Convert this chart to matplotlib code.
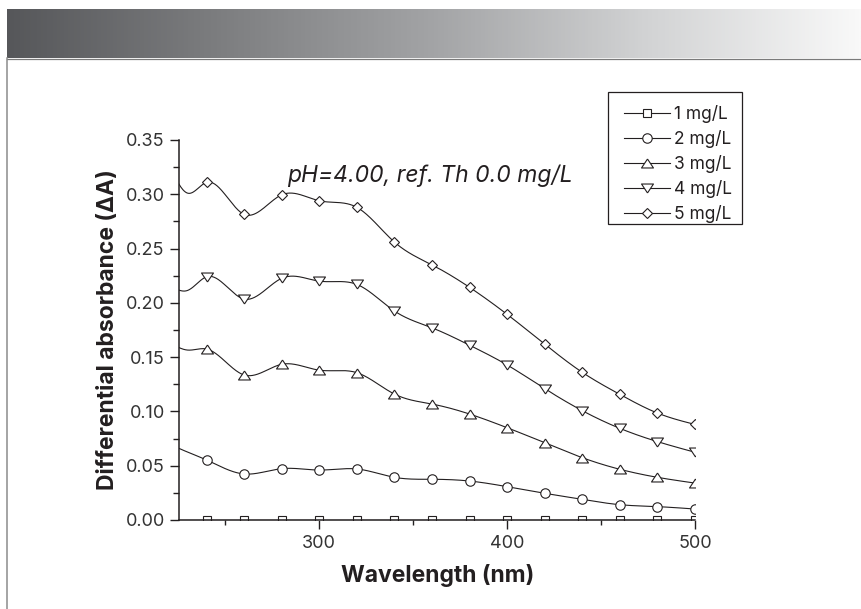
import numpy as np
import matplotlib.pyplot as plt
from matplotlib.lines import Line2D
from matplotlib.patches import Rectangle
from matplotlib.colors import LinearSegmentedColormap

plt.rcParams['font.family'] = ['Inter', 'DejaVu Sans']

# Differential absorbance vs wavelength, one series per Th concentration
wavelength = [240, 260, 280, 300, 320, 340, 360, 380, 400, 420, 440, 460, 480, 500]
th_1 = [0.0, 0.0, 0.0, 0.0, 0.0, 0.0, 0.0, 0.0, 0.0, 0.0, 0.0, 0.0, 0.0, 0.0]
th_2 = [0.0553, 0.0424, 0.0473, 0.0460, 0.0470, 0.0393, 0.0375, 0.0359, 0.0307, 0.0246, 0.0190, 0.0141, 0.0123, 0.0101]
th_3 = [0.1575, 0.1336, 0.1434, 0.1380, 0.1357, 0.1160, 0.1068, 0.0976, 0.0850, 0.0712, 0.0574, 0.0467, 0.0393, 0.0340]
th_4 = [0.2240, 0.2035, 0.2226, 0.2200, 0.2170, 0.1925, 0.1770, 0.1610, 0.1428, 0.1210, 0.1007, 0.0844, 0.0722, 0.0624]
th_5 = [0.3110, 0.2815, 0.2995, 0.2940, 0.2880, 0.2560, 0.2350, 0.2143, 0.1894, 0.1620, 0.1360, 0.1157, 0.0985, 0.0880]
labels = ['1 mg/L', '2 mg/L', '3 mg/L', '4 mg/L', '5 mg/L']

# readings below 240 nm: only the curve is shown there, no symbols
lead_wl = [220, 230]
lead_1 = [0.0, 0.0]
lead_2 = [0.0700, 0.0625]
lead_3 = [0.1640, 0.1565]
lead_4 = [0.2170, 0.2115]
lead_5 = [0.3280, 0.3010]

ink = '#231f20'
W, H = 862, 609


def natural_spline(x, y, xs):
    x = np.asarray(x, float)
    y = np.asarray(y, float)
    n = len(x)
    h = np.diff(x)
    A = np.zeros((n, n))
    b = np.zeros(n)
    A[0, 0] = 1
    A[-1, -1] = 1
    for i in range(1, n - 1):
        A[i, i - 1] = h[i - 1]
        A[i, i] = 2 * (h[i - 1] + h[i])
        A[i, i + 1] = h[i]
        b[i] = 6 * ((y[i + 1] - y[i]) / h[i] - (y[i] - y[i - 1]) / h[i - 1])
    M = np.linalg.solve(A, b)
    k = np.clip(np.searchsorted(x, xs) - 1, 0, n - 2)
    t0 = x[k + 1] - xs
    t1 = xs - x[k]
    hk = h[k]
    return (M[k] * t0 ** 3 / (6 * hk) + M[k + 1] * t1 ** 3 / (6 * hk)
            + (y[k] / hk - M[k] * hk / 6) * t0 + (y[k + 1] / hk - M[k + 1] * hk / 6) * t1)


tri_up = [(0, 0.75), (-1, -0.75), (1, -0.75), (0, 0.75)]
tri_down = [(0, -0.75), (-1, 0.75), (1, 0.75), (0, -0.75)]
styles = [('s', 6.2), ('o', 6.8), (tri_up, 8.6), (tri_down, 8.6), ('D', 5.6)]

fig = plt.figure(figsize=(W / 100, H / 100), dpi=100)

# grey banner across the top
grad = LinearSegmentedColormap.from_list('band', ['#56575a', '#7d7e80', '#a3a4a6', '#d2d3d4', '#f9f9f9'])
band = fig.add_axes([7 / W, 1 - 58 / H, 1 - 7 / W, 49 / H])
band.imshow(np.linspace(0, 1, 512)[None, :], aspect='auto', cmap=grad, extent=[0, 1, 0, 1])
band.axis('off')
fig.add_artist(Line2D([7 / W, 1], [1 - 58.5 / H] * 2, color='#7a7a7a', lw=0.9))
fig.add_artist(Line2D([7.5 / W] * 2, [0, 1 - 58 / H], color='#8c8c8c', lw=1.1))

ax = fig.add_axes([179.3 / W, 89 / H, (695 - 179.3) / W, 380 / H])
xs = np.linspace(220, 500, 800)
series = [(th_1, lead_1), (th_2, lead_2), (th_3, lead_3), (th_4, lead_4), (th_5, lead_5)]
handles = []
for (ys, lead), (mk, ms), lab in zip(series, styles, labels):
    ax.plot(xs, natural_spline(lead_wl + wavelength, lead + ys, xs), color=ink, lw=0.8)
    ax.plot(wavelength, ys, linestyle='none', marker=mk, ms=ms, mfc='white', mec=ink, mew=0.8)
    handles.append(Line2D([], [], color=ink, lw=0.8, marker=mk, ms=ms, mfc='white', mec=ink, mew=0.8))

ax.set_xlim(225.5, 500)
ax.set_ylim(0, 0.35)
ax.set_xticks([300, 400, 500])
ax.set_xticks([250, 350, 450], minor=True)
ax.set_yticks(np.arange(0, 0.351, 0.05))
ax.set_yticks(np.arange(0.025, 0.35, 0.05), minor=True)
ax.set_yticklabels([f'{v:.2f}' for v in np.arange(0, 0.351, 0.05)])
ax.spines['top'].set_visible(False)
ax.spines['right'].set_visible(False)
for s in ['left', 'bottom']:
    ax.spines[s].set_linewidth(1.1)
    ax.spines[s].set_color(ink)
ax.tick_params(which='major', length=6.5, width=1.0, color=ink, labelsize=13, labelcolor='#333333', pad=4)
ax.tick_params(which='minor', length=4.5, width=1.0, color=ink)
ax.tick_params(axis='x', which='minor', length=3.5)

ax.set_xlabel('Wavelength (nm)', fontsize=16.5, fontweight='bold', color=ink, labelpad=9)
ax.set_ylabel('Differential absorbance (ΔA)', fontsize=16.5, fontweight='bold', color=ink, labelpad=5)

fig.text(287 / W, 1 - 182 / H, 'pH=4.00, ref. Th 0.0 mg/L', fontsize=16.5, style='italic',
         color=ink, va='baseline', ha='left')

# legend box drawn separately so the entries can sit inside it with wide margins
fig.add_artist(Rectangle((608 / W, 1 - 224 / H), 134 / W, 132 / H, transform=fig.transFigure,
                         facecolor='white', edgecolor=ink, lw=0.9, zorder=4))
leg = fig.legend(handles, labels, loc='upper left', bbox_to_anchor=(624 / W, 1 - 105 / H),
                 bbox_transform=fig.transFigure, borderaxespad=0, borderpad=0, fontsize=12.5,
                 handlelength=2.65, handletextpad=0.23, labelspacing=0.41, frameon=False)
leg.set_zorder(5)
for t in leg.get_texts():
    t.set_color(ink)

fig.savefig('out.png', dpi=100)
